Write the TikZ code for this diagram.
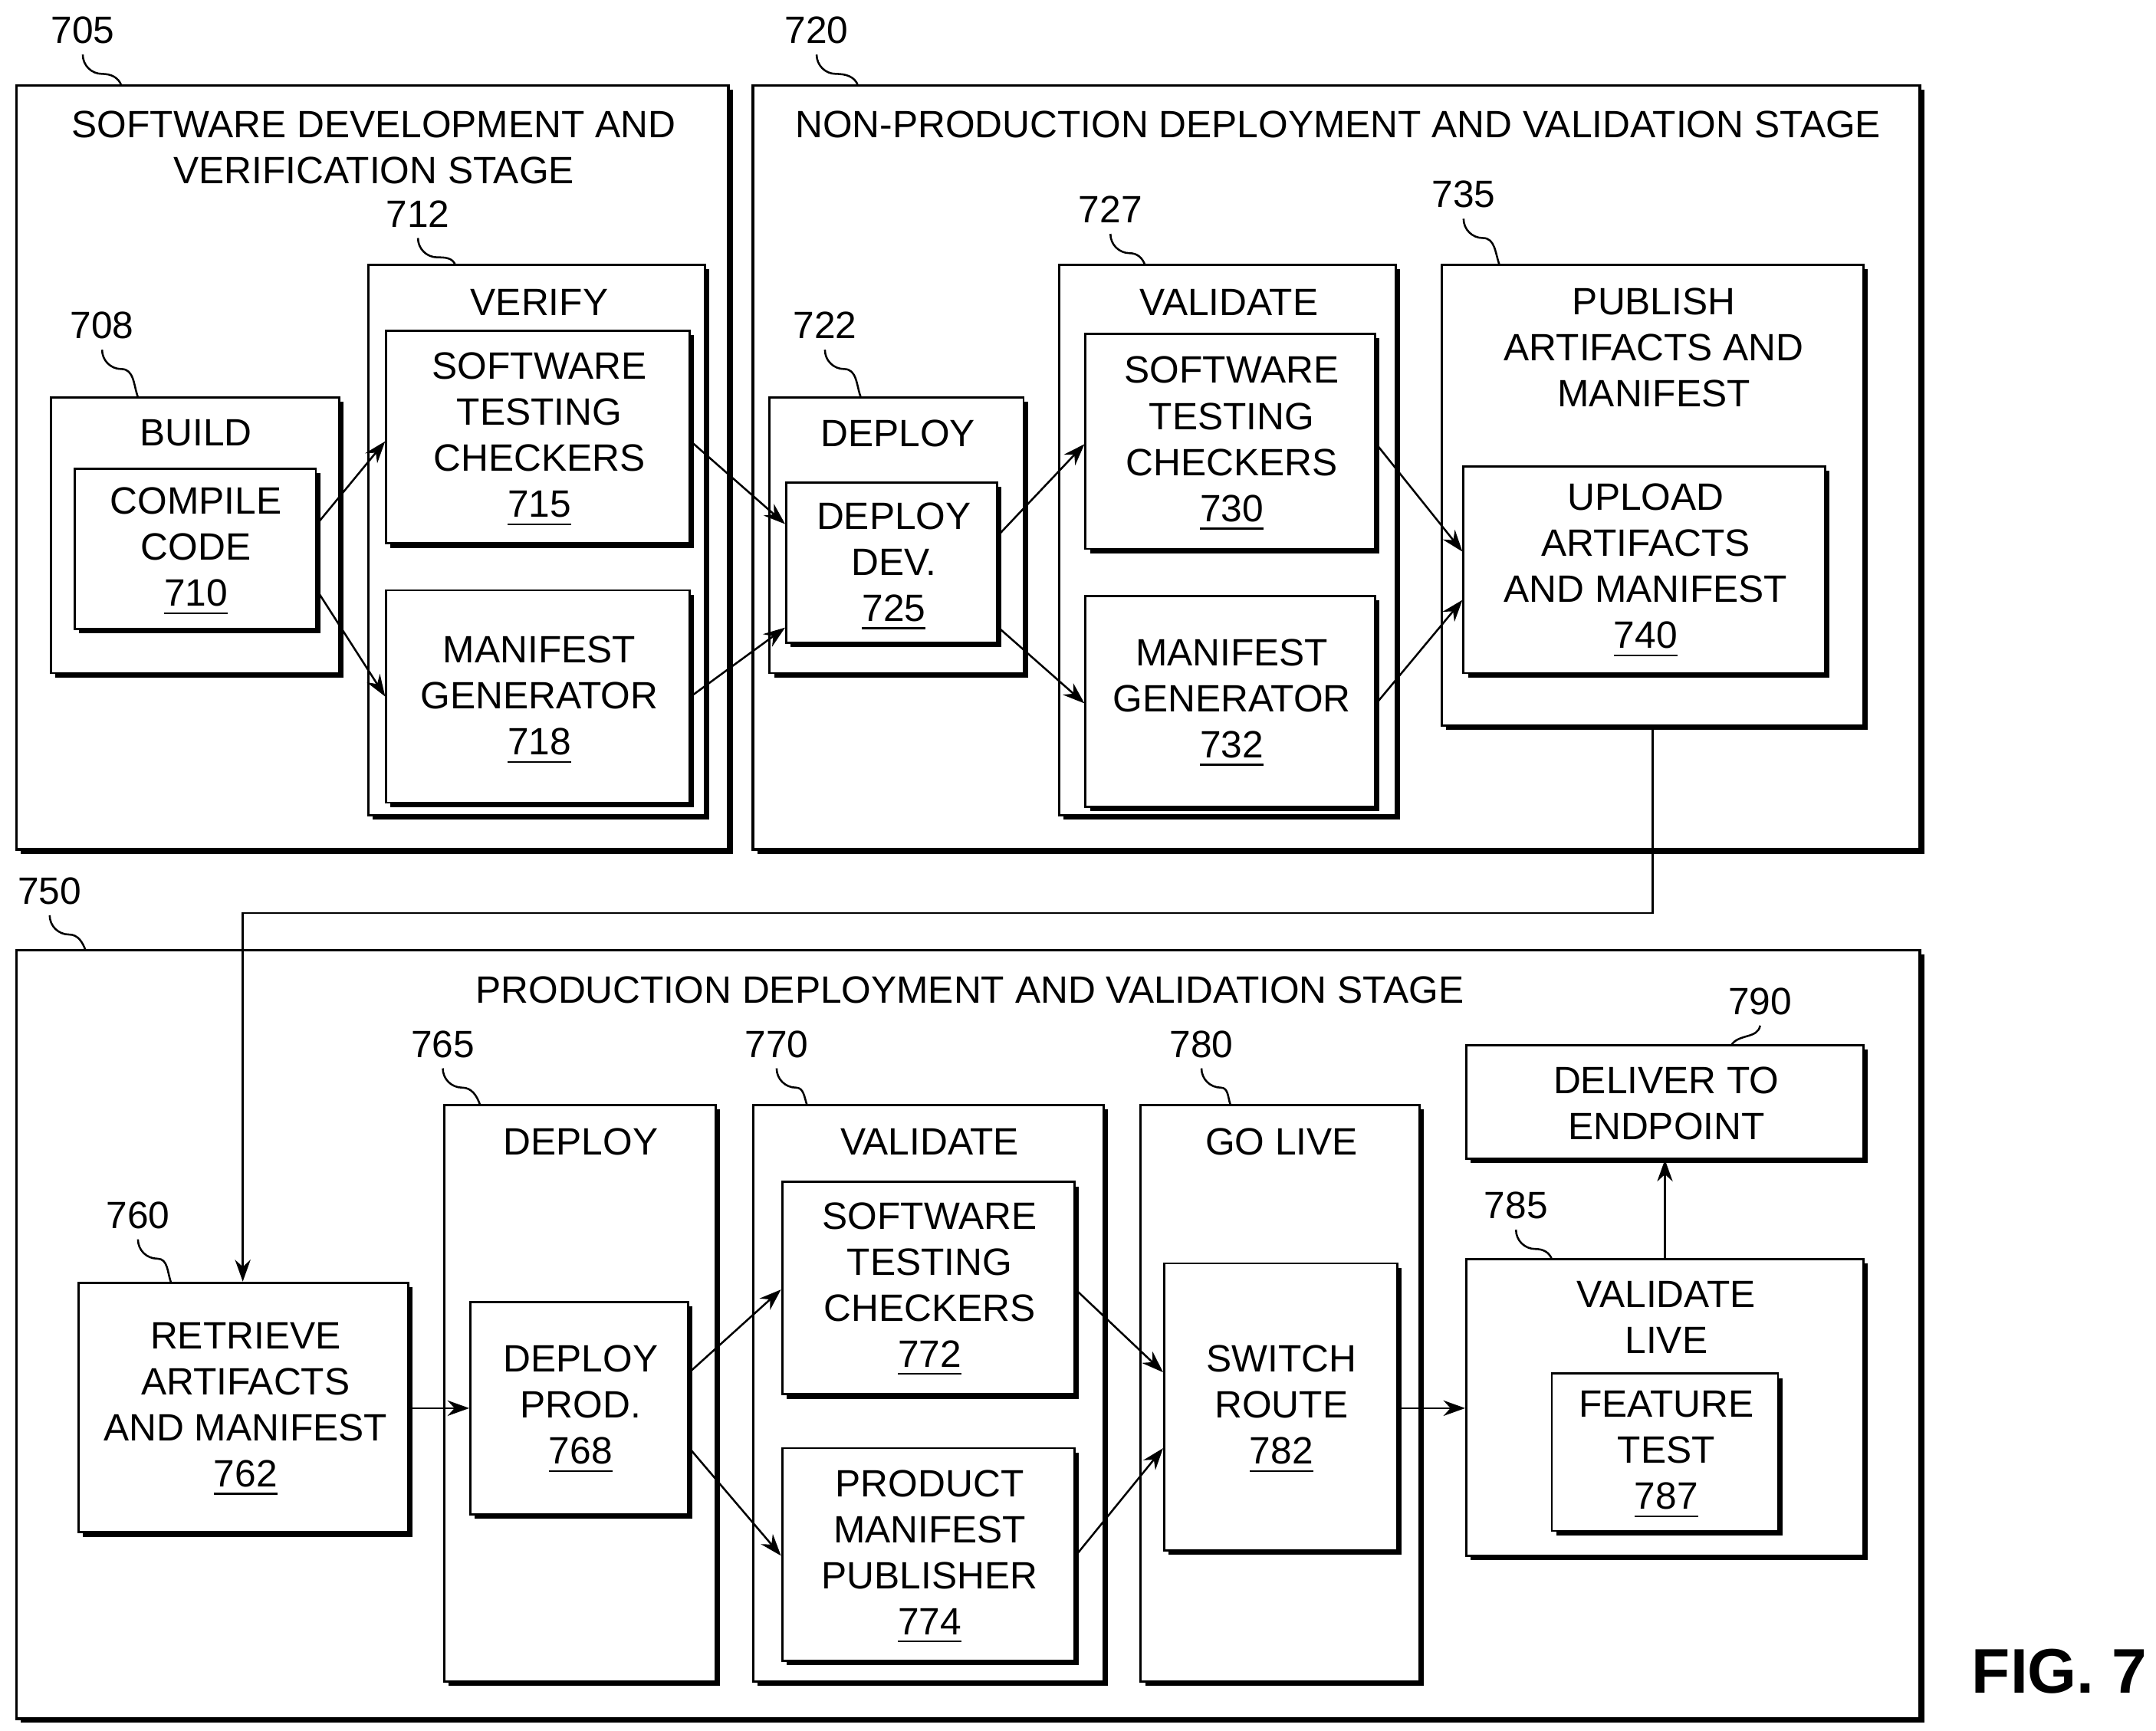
\documentclass[tikz,border=0pt]{standalone}
\usepackage{fontspec}
\setmainfont{Liberation Sans}
\usetikzlibrary{positioning,fit,shadows,arrows.meta}
\tikzset{
  box/.style={draw,line width=0.45pt,fill=white,inner sep=0pt,
    drop shadow={shadow xshift=0.9pt,shadow yshift=-0.9pt,fill=black,opacity=1}},
  stage/.style={box,line width=0.6pt},
  txt/.style={align=center,inner sep=0pt,font=\fontsize{7.85}{9.5}\selectfont},
  arr/.style={-{Stealth[length=4.5pt,width=3.2pt]},line width=0.4pt},
  lead/.style={line width=0.4pt},
}
\newcommand{\bx}[6][box]{\node[#1,fit={(#3,#4)(#5,#6)}] (#2) {};}
\newcommand{\refnum}[3]{% label, text pos, target
  \node[txt] (r#1) at (#2) {#1};
  \draw[lead] ([yshift=-5pt]r#1.center) to[out=-90,in=180] ++(14,14) to[out=0,in=110] (#3);}
\begin{document}
\begin{tikzpicture}[x=0.01cm,y=-0.01cm]
\useasboundingbox (0,0) rectangle (1563,1255);
% stage 705
\bx[stage]{s705}{12}{62}{528}{616}
\node[txt] (t705) at (271,107) {SOFTWARE DEVELOPMENT AND\\VERIFICATION STAGE};
\bx{b708}{37}{288}{246}{488}
\node[txt] (t708) at (142,314) {BUILD};
\bx{b710}{54}{340}{229}{456}
\node[txt] (t710) at (142,400) {COMPILE\\CODE\\\underline{710}};
\bx{b712}{267}{192}{511}{591}
\node[txt] (t712) at (391,219) {VERIFY};
\bx{b715}{280}{240}{500}{394}
\node[txt] (t715) at (391,319) {SOFTWARE\\TESTING\\CHECKERS\\\underline{715}};
\bx{b718}{280}{428}{500}{582}
\node[txt] (t718) at (391,508) {MANIFEST\\GENERATOR\\\underline{718}};
% stage 720
\bx[stage]{s720}{546}{62}{1392}{616}
\node[txt] (t720) at (970,90) {NON-PRODUCTION DEPLOYMENT AND VALIDATION STAGE};
\bx{b722}{558}{288}{742}{488}
\node[txt] (t722) at (651,314) {DEPLOY};
\bx{b725}{570}{350}{723}{466}
\node[txt] (t725) at (648,411) {DEPLOY\\DEV.\\\underline{725}};
\bx{b727}{768}{192}{1012}{591}
\node[txt] (t727) at (891,219) {VALIDATE};
\bx{b730}{787}{242}{997}{398}
\node[txt] (t730) at (893,322) {SOFTWARE\\TESTING\\CHECKERS\\\underline{730}};
\bx{b732}{787}{432}{997}{585}
\node[txt] (t732) at (893,510) {MANIFEST\\GENERATOR\\\underline{732}};
\bx{b735}{1045}{192}{1351}{526}
\node[txt] (t735) at (1199,252) {PUBLISH\\ARTIFACTS AND\\MANIFEST};
\bx{b740}{1061}{338}{1323}{488}
\node[txt] (t740) at (1193,414) {UPLOAD\\ARTIFACTS\\AND MANIFEST\\\underline{740}};
% stage 750
\bx[stage]{s750}{12}{689}{1392}{1246}
\node[txt] (t750) at (703,718) {PRODUCTION DEPLOYMENT AND VALIDATION STAGE};
\bx{b760}{57}{930}{296}{1111}
\node[txt] (t760) at (178,1022) {RETRIEVE\\ARTIFACTS\\AND MANIFEST\\\underline{762}};
\bx{b765}{322}{801}{519}{1219}
\node[txt] (t765) at (421,828) {DEPLOY};
\bx{b768}{341}{944}{499}{1098}
\node[txt] (t768) at (421,1022) {DEPLOY\\PROD.\\\underline{768}};
\bx{b770}{546}{801}{800}{1219}
\node[txt] (t770) at (674,828) {VALIDATE};
\bx{b772}{567}{857}{779}{1011}
\node[txt] (t772) at (674,935) {SOFTWARE\\TESTING\\CHECKERS\\\underline{772}};
\bx{b774}{567}{1050}{779}{1204}
\node[txt] (t774) at (674,1129) {PRODUCT\\MANIFEST\\PUBLISHER\\\underline{774}};
\bx{b780}{827}{801}{1029}{1219}
\node[txt] (t780) at (929,828) {GO LIVE};
\bx{b782}{844}{916}{1013}{1124}
\node[txt] (t782) at (929,1022) {SWITCH\\ROUTE\\\underline{782}};
\bx{b790}{1063}{758}{1351}{840}
\node[txt] (t790) at (1208,800) {DELIVER TO\\ENDPOINT};
\bx{b785}{1063}{913}{1351}{1128}
\node[txt] (t785) at (1208,955) {VALIDATE\\LIVE};
\bx{b787}{1125}{996}{1289}{1110}
\node[txt] (t787) at (1208,1055) {FEATURE\\TEST\\\underline{787}};
\node[font=\bfseries\fontsize{13}{15}\selectfont,inner sep=0pt] (fig) at (1493,1212) {FIG. 7};
% connectors
\draw[arr] (b710.east |- 0,380) -- (b715.west |- 0,320);
\draw[arr] (b710.east |- 0,428) -- (b718.west |- 0,505);
\draw[arr] (b715.east |- 0,320) -- (b725.west |- 0,380);
\draw[arr] (b718.east |- 0,505) -- (b725.west |- 0,455);
\draw[arr] (b725.east |- 0,388) -- (b730.west |- 0,322);
\draw[arr] (b725.east |- 0,455) -- (b732.west |- 0,510);
\draw[arr] (b730.east |- 0,322) -- (b740.west |- 0,400);
\draw[arr] (b732.east |- 0,510) -- (b740.west |- 0,435);
\draw[arr] (b735.south -| 1198,0) -- (1198,662) -- (176,662) -- (b760.north -| 176,0);
\draw[arr] (b760.east |- 0,1021) -- (b768.west |- 0,1021);
\draw[arr] (b768.east |- 0,995) -- (b772.west |- 0,935);
\draw[arr] (b768.east |- 0,1050) -- (b774.west |- 0,1128);
\draw[arr] (b772.east |- 0,935) -- (b782.west |- 0,995);
\draw[arr] (b774.east |- 0,1128) -- (b782.west |- 0,1050);
\draw[arr] (b782.east |- 0,1021) -- (b785.west |- 0,1021);
\draw[arr] (b785.north) -- (b790.south);
% reference labels
\refnum{705}{60,22}{88,62}
\refnum{720}{592,22}{622,62}
\refnum{712}{303,155}{330,192}
\refnum{708}{74,236}{100,288}
\refnum{722}{598,236}{624,288}
\refnum{727}{805,152}{830,192}
\refnum{735}{1061,141}{1087,192}
\refnum{750}{36,646}{62,689}
\refnum{765}{321,757}{348,801}
\refnum{770}{563,757}{585,801}
\refnum{780}{871,757}{892,801}
\refnum{760}{100,881}{124,930}
\refnum{785}{1099,874}{1125,913}
\node[txt] (r790) at (1276,726) {790};
\draw[lead] ([yshift=-5pt]r790.center) to[out=-100,in=60] (1255,758);
\end{tikzpicture}
\end{document}
